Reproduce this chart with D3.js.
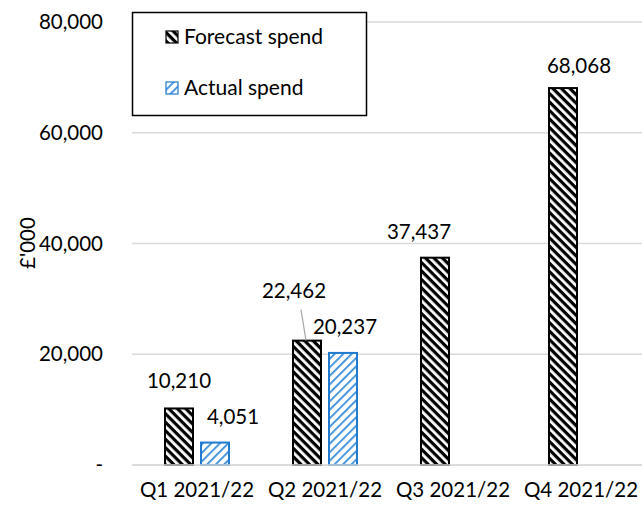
<!DOCTYPE html>
<html><head><meta charset="utf-8">
<script src="https://cdn.jsdelivr.net/npm/d3@7"></script>
<style>body{margin:0;background:#fff}svg{display:block}text{font-family:Lato,"Open Sans",sans-serif;fill:#000}</style>
</head><body><svg id="c" width="642" height="508"></svg>
<script>
const categories = ["Q1 2021/22","Q2 2021/22","Q3 2021/22","Q4 2021/22"];
const forecast = [10210, 22462, 37437, 68068];
const actual = [4051, 20237, null, null];
const seriesNames = ["Forecast spend","Actual spend"];
const yTicks = [0, 20000, 40000, 60000, 80000];
const yTickLabels = ["-", "20,000", "40,000", "60,000", "80,000"];
const yTitle = "£'000";

const FS = 20.5;
const svg = d3.select("#c");
const defs = svg.append("defs");
// forecast: black wide downward diagonal
const p1 = defs.append("pattern").attr("id","pf").attr("patternUnits","userSpaceOnUse")
  .attr("width",6).attr("height",6).attr("patternTransform","rotate(45)");
p1.append("rect").attr("width",6).attr("height",6).attr("fill","#fff");
p1.append("rect").attr("width",6).attr("height",3.2).attr("fill","#000");
const p2 = defs.append("pattern").attr("id","pa").attr("patternUnits","userSpaceOnUse")
  .attr("width",6).attr("height",6).attr("patternTransform","rotate(-45)");
p2.append("rect").attr("width",6).attr("height",6).attr("fill","#fff");
p2.append("rect").attr("width",6).attr("height",1.8).attr("fill","#3A8EDB");

const x = d3.scaleBand().domain(categories).range([133,645]).padding(0);
const y = d3.scaleLinear().domain([0,80000]).range([465,22]);
const barW = 30, gap = 6;

// gridlines
svg.append("g").selectAll("line").data(yTicks).join("line")
  .attr("x1",132).attr("x2",642).attr("y1",d=>y(d)).attr("y2",d=>y(d))
  .attr("stroke","#d9d9d9").attr("stroke-width",1.5);

// y axis labels
const yAxis = d3.axisLeft(y).tickValues(yTicks).tickFormat((d,i)=>yTickLabels[i]).tickSize(0).tickPadding(0);
const ga = svg.append("g").attr("transform","translate(103,0)").call(yAxis);
ga.select(".domain").remove();
ga.selectAll("text").attr("font-size",FS).attr("font-family","Lato, 'Open Sans', sans-serif").attr("fill","#000");

// x axis labels
const xAxis = d3.axisBottom(x).tickSize(0).tickPadding(0);
const gx = svg.append("g").attr("transform","translate(0,479)").call(xAxis);
gx.select(".domain").remove();
gx.selectAll("text").attr("font-size",FS).attr("font-family","Lato, 'Open Sans', sans-serif").attr("fill","#000").attr("dy","0.9em");

// y title
svg.append("text").attr("transform","translate(35,243) rotate(-90)").attr("text-anchor","middle")
  .attr("font-size",FS).text(yTitle);

const cx = c => x(c) + x.bandwidth()/2;
const fx = c => cx(c) - gap/2 - barW;
const ax = c => cx(c) + gap/2;

svg.append("g").selectAll("rect").data(categories.map((c,i)=>({c,v:forecast[i]}))).join("rect")
  .attr("x",d=>fx(d.c)+1).attr("width",barW-2).attr("y",d=>y(d.v)).attr("height",d=>y(0)-y(d.v))
  .attr("fill","url(#pf)").attr("stroke","#000").attr("stroke-width",2);
svg.append("g").selectAll("rect").data(categories.map((c,i)=>({c,v:actual[i]})).filter(d=>d.v!=null)).join("rect")
  .attr("x",d=>ax(d.c)+1).attr("width",barW-2).attr("y",d=>y(d.v)).attr("height",d=>y(0)-y(d.v))
  .attr("fill","url(#pa)").attr("stroke","#1F7AD0").attr("stroke-width",2);

// redraw baseline on top
svg.append("line").attr("x1",132).attr("x2",642).attr("y1",y(0)).attr("y2",y(0)).attr("stroke","#d9d9d9").attr("stroke-width",1.5);

// data labels (manual offsets as in the original)
const fmt = d3.format(",");
const fOff = [[0,-20],[-13,-43],[-16,-19],[16,-15]];
const aOff = [[18,-19],[2,-19]];
const lab = svg.append("g").attr("font-size",FS).attr("text-anchor","middle");
forecast.forEach((v,i)=>{
  const bx = fx(categories[i]) + barW/2;
  lab.append("text").attr("x",bx+fOff[i][0]).attr("y",y(v)+fOff[i][1]).text(fmt(v));
});
actual.forEach((v,i)=>{
  if(v==null) return;
  const bx = ax(categories[i]) + barW/2;
  lab.append("text").attr("x",bx+aOff[i][0]).attr("y",y(v)+aOff[i][1]).text(fmt(v));
});
// leader line for Q2 forecast
{
  const bx = fx(categories[1]) + barW/2;
  svg.append("line").attr("x1",bx-6).attr("y1",y(forecast[1])-31).attr("x2",bx-1).attr("y2",y(forecast[1]))
    .attr("stroke","#a6a6a6").attr("stroke-width",1.2);
}

// legend
const lg = svg.append("g");
lg.append("rect").attr("x",132.5).attr("y",12.5).attr("width",234).attr("height",103)
  .attr("fill","#fff").attr("stroke","#000").attr("stroke-width",1.5);
const pats = ["url(#pf)","url(#pa)"], strokes = ["#000","#1F7AD0"];
seriesNames.forEach((n,i)=>{
  const yy = 31 + i*51;
  lg.append("rect").attr("x",166).attr("y",yy).attr("width",12).attr("height",12)
    .attr("fill",pats[i]).attr("stroke",strokes[i]).attr("stroke-width",1.2);
  lg.append("text").attr("x",184).attr("y",yy+13).attr("font-size",FS + 0.5).text(n);
});
</script></body></html>
